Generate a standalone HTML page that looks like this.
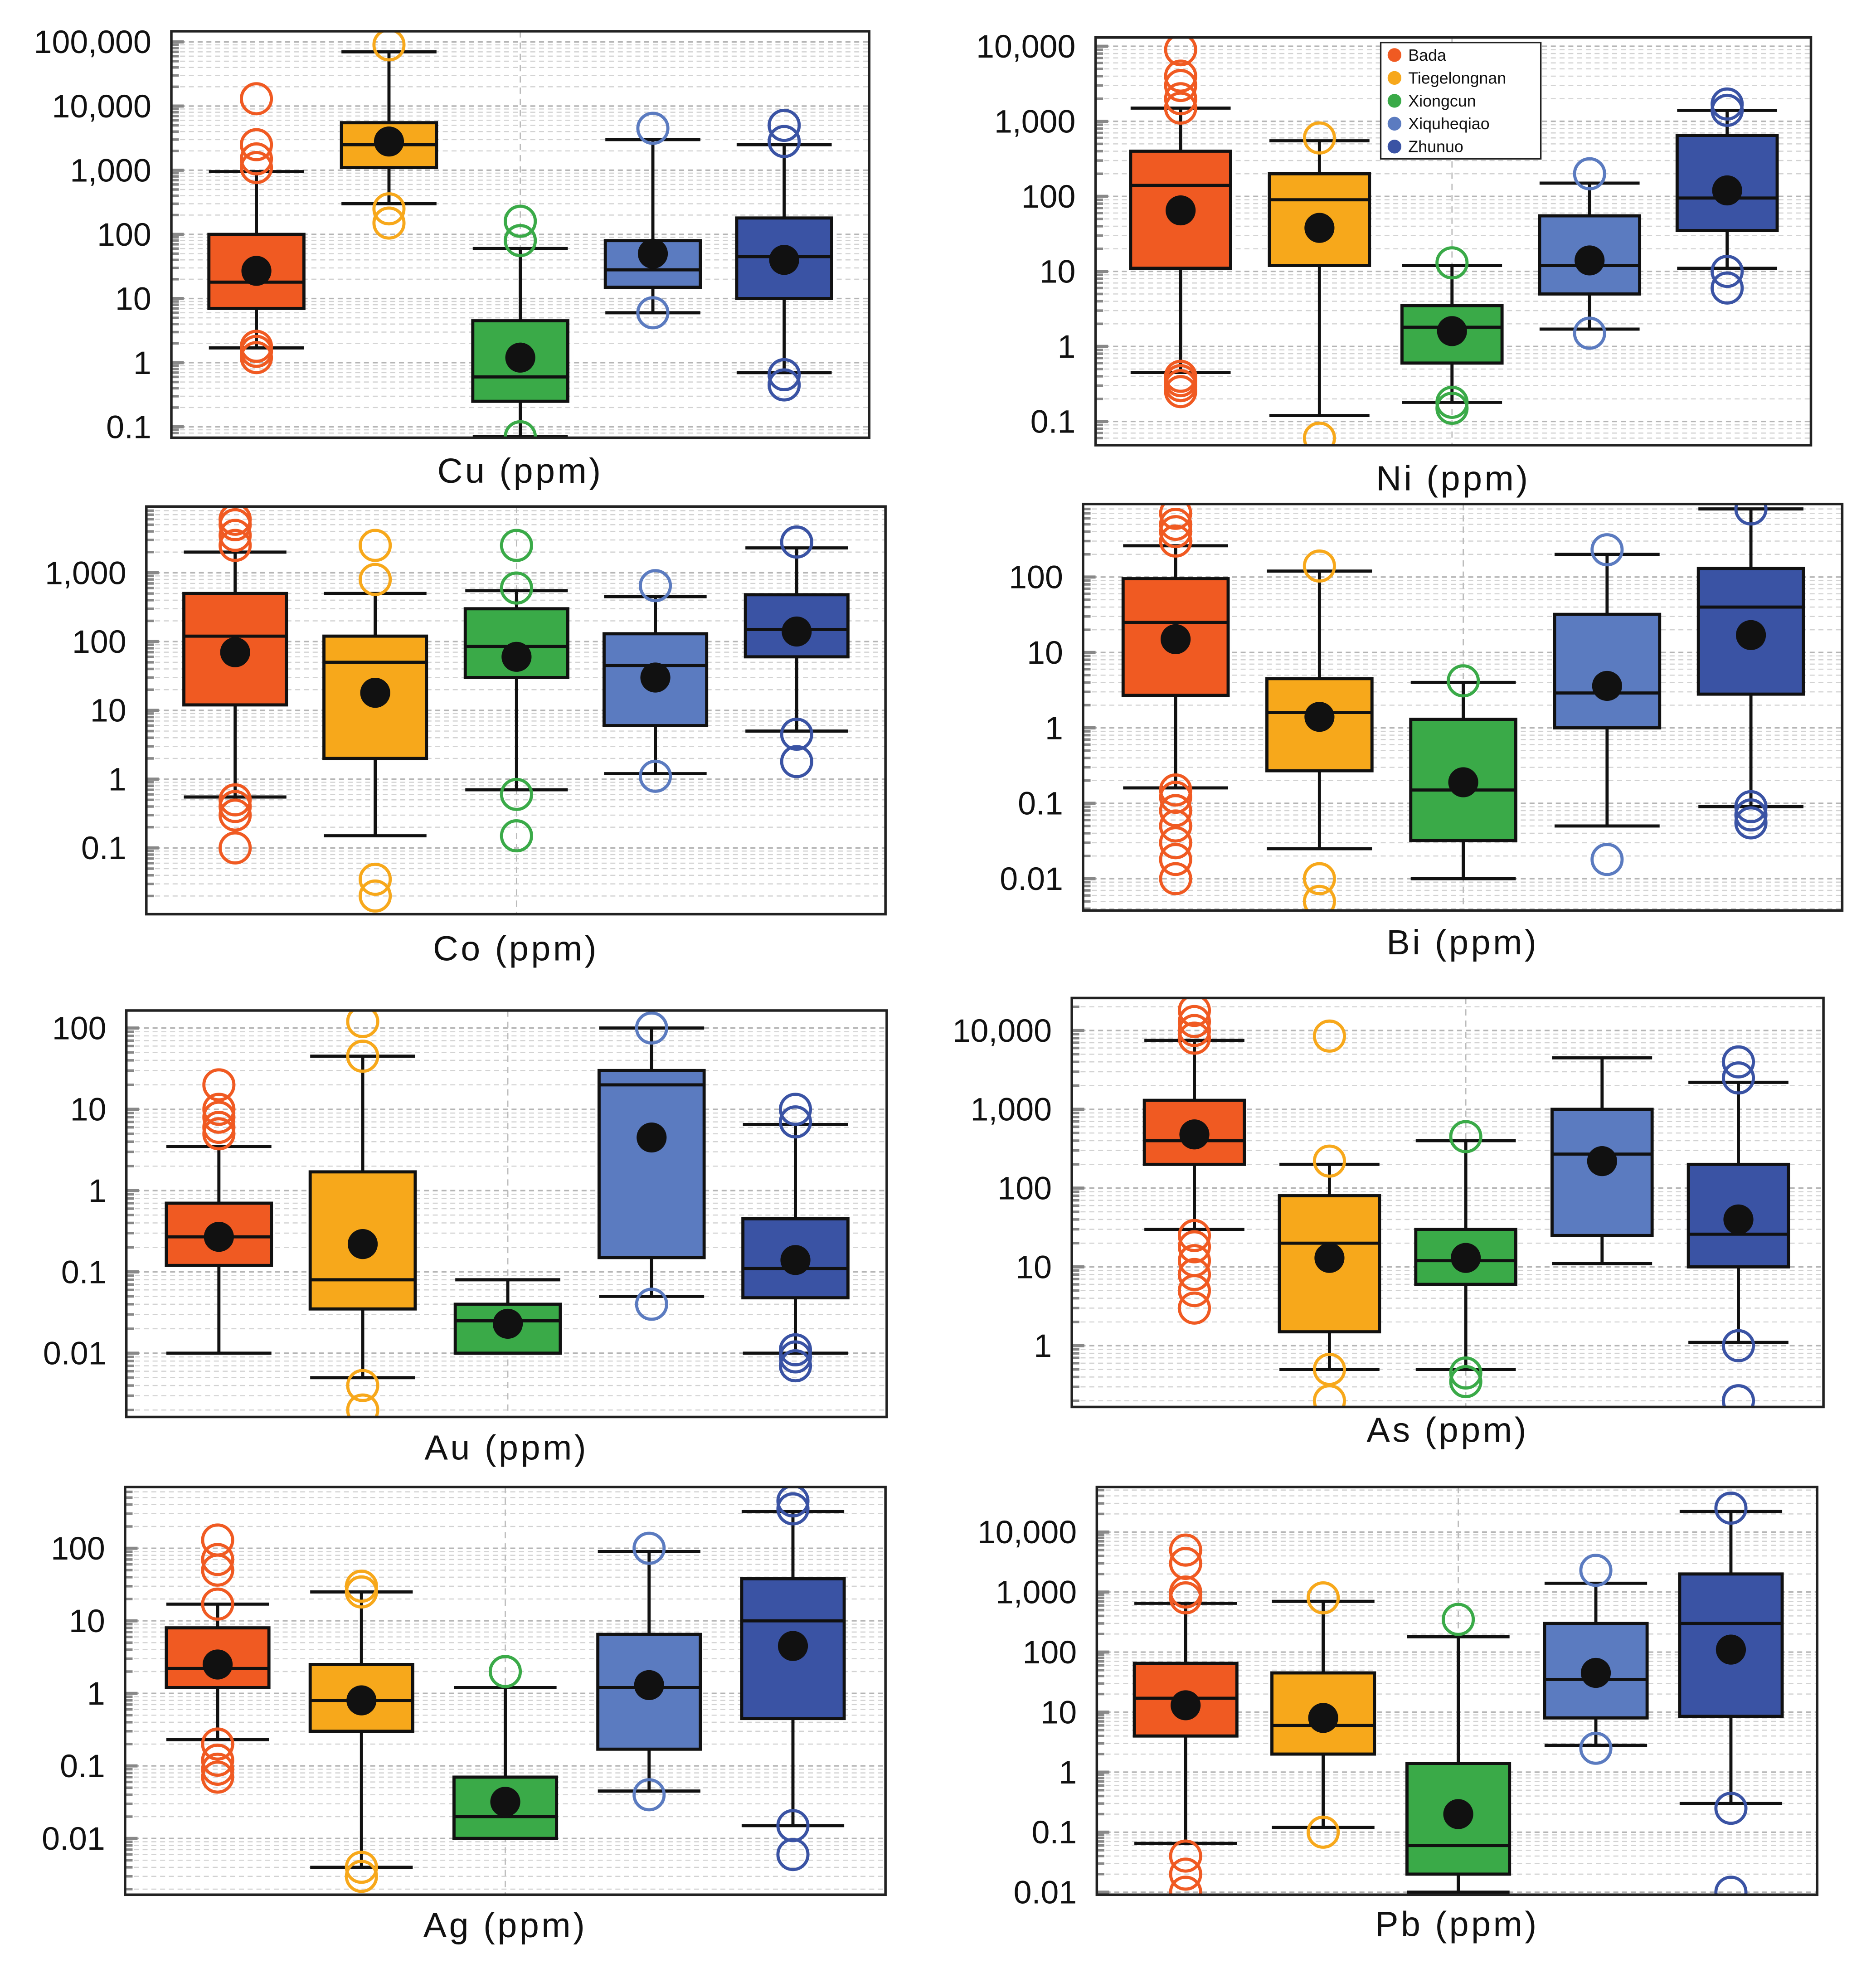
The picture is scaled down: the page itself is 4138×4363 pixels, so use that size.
<!DOCTYPE html>
<html><head><meta charset="utf-8"><style>
html,body{margin:0;padding:0;background:#fff}
svg{display:block}
text{font-family:"Liberation Sans",Arial,sans-serif}
</style></head><body>
<svg id="chart" xmlns="http://www.w3.org/2000/svg" width="4138" height="4363" viewBox="0 0 1500 1581.6"></svg>
<script>
const groups = ["Bada","Tiegelongnan","Xiongcun","Xiqueqiao","Zhunuo"];
const colors = ["#f05a22","#f7a81b","#3aaa48","#5b7bc0","#3a53a4"];
// per element: [whiskerLow, q1, median, q3, whiskerHigh, mean] for each group
const cuStats = [[1.7,7,18,100,950,27],[300,1100,2500,5500,70000,2800],[0.07,0.25,0.6,4.5,60,1.2],[6,15,28,80,3000,50],[0.7,10,45,180,2500,40]];
const cuOut = [[1.2,1.5,1.8,1100,1500,2500,13000],[150,250,90000],[0.07,80,160],[6,4500],[0.45,0.65,2800,5000]];
const niStats = [[0.45,11,140,400,1500,65],[0.12,12,90,200,550,38],[0.18,0.6,1.8,3.5,12,1.6],[1.7,5,12,55,150,14],[11,35,95,650,1400,120]];
const niOut = [[0.25,0.3,0.35,0.4,1500,2000,3000,4000,9000],[0.06,600],[0.15,0.18,13],[1.5,200],[6,10,1400,1700]];
const coStats = [[0.55,12,120,500,2000,70],[0.15,2,50,120,500,18],[0.7,30,85,300,550,60],[1.2,6,45,130,450,30],[5,60,150,480,2300,140]];
const coOut = [[0.1,0.3,0.4,0.5,2500,3500,5000,6000],[0.02,0.035,800,2500],[0.15,0.6,600,2500],[1.1,650],[1.8,4.5,2800]];
const biStats = [[0.16,2.7,25,95,260,15],[0.025,0.27,1.6,4.5,120,1.4],[0.01,0.032,0.15,1.3,4,0.19],[0.05,1,2.9,32,200,3.6],[0.09,2.8,40,130,800,17]];
const biOut = [[0.01,0.018,0.03,0.05,0.08,0.12,0.15,300,400,500,700],[0.005,0.01,140],[4.2],[0.018,230],[0.055,0.07,0.09,800]];
const auStats = [[0.01,0.12,0.27,0.7,3.5,0.27],[0.005,0.035,0.08,1.7,45,0.22],[0.01,0.01,0.025,0.04,0.08,0.023],[0.05,0.15,20,30,100,4.5],[0.01,0.048,0.11,0.45,6.5,0.14]];
const auOut = [[5,6,8,10,20],[0.002,0.004,45,120],[],[0.04,100],[0.007,0.009,0.011,7,10]];
const asStats = [[30,200,400,1300,7500,480],[0.5,1.5,20,80,200,13],[0.5,6,12,30,400,13],[11,25,270,1000,4500,220],[1.1,10,26,200,2200,40]];
const asOut = [[3,5,8,12,18,25,8000,10000,13000,18000],[0.2,0.5,220,8500],[0.35,0.45,450],[],[0.2,1,2500,4000]];
const agStats = [[0.23,1.2,2.2,8,17,2.5],[0.004,0.3,0.8,2.5,25,0.8],[0.01,0.01,0.02,0.07,1.2,0.032],[0.045,0.17,1.2,6.5,90,1.3],[0.015,0.45,10,38,320,4.5]];
const agOut = [[0.07,0.09,0.12,0.2,17,50,70,130],[0.003,0.004,25,30],[2],[0.04,100],[0.006,0.015,350,450]];
const pbStats = [[0.065,4,17,65,650,13],[0.12,2,6,45,700,8],[0.01,0.02,0.06,1.4,180,0.2],[2.8,8,35,300,1400,45],[0.3,8.5,300,2000,22000,110]];
const pbOut = [[0.01,0.02,0.04,800,1000,3000,5000],[0.1,800],[350],[2.5,2300],[0.01,0.25,25000]];
const tickLabels = {"0.01":"0.01","0.1":"0.1","1":"1","10":"10","100":"100","1000":"1,000","10000":"10,000","100000":"100,000"};

// layout (display units)
const panels = [
 {name:"cu",label:"Cu (ppm)",stats:cuStats,out:cuOut,x0:137,x1:695,y0:25,y1:350,y1v:290,dec:51.3,ticks:[0.1,1,10,100,1000,10000,100000],cx:[205,311,416,522,627],w:76,capY:376},
 {name:"ni",label:"Ni (ppm)",stats:niStats,out:niOut,x0:876,x1:1448,y0:30,y1:356,y1v:277,dec:60,ticks:[0.1,1,10,100,1000,10000],cx:[944,1055,1161,1271,1381],w:80,capY:382,legend:true},
 {name:"co",label:"Co (ppm)",stats:coStats,out:coOut,x0:117,x1:708,y0:405,y1:731,y1v:623,dec:55,ticks:[0.1,1,10,100,1000],cx:[188,300,413,524,637],w:82,capY:758},
 {name:"bi",label:"Bi (ppm)",stats:biStats,out:biOut,x0:866,x1:1473,y0:403,y1:728,y1v:582,dec:60.3,ticks:[0.01,0.1,1,10,100],cx:[940,1055,1170,1285,1400],w:84,capY:753},
 {name:"au",label:"Au (ppm)",stats:auStats,out:auOut,x0:101,x1:709,y0:808,y1:1133,y1v:952,dec:65,ticks:[0.01,0.1,1,10,100],cx:[175,290,406,521,636],w:84,capY:1157},
 {name:"as",label:"As (ppm)",stats:asStats,out:asOut,x0:857,x1:1458,y0:798,y1:1125,y1v:1076,dec:63,ticks:[1,10,100,1000,10000],cx:[955,1063,1172,1281,1390],w:80,capY:1143},
 {name:"ag",label:"Ag (ppm)",stats:agStats,out:agOut,x0:100,x1:708,y0:1189,y1:1515,y1v:1354,dec:58,ticks:[0.01,0.1,1,10,100],cx:[174,289,404,519,634],w:82,capY:1539},
 {name:"pb",label:"Pb (ppm)",stats:pbStats,out:pbOut,x0:877,x1:1453,y0:1189,y1:1515,y1v:1417,dec:48,ticks:[0.01,0.1,1,10,100,1000,10000],cx:[948,1058,1166,1276,1384],w:82,capY:1538}
];
const NS="http://www.w3.org/2000/svg";
const svg=document.getElementById('chart');
function mk(tag,attrs,parent){const e=document.createElementNS(NS,tag);for(const k in attrs)e.setAttribute(k,attrs[k]);(parent||svg).appendChild(e);return e;}
const defs=mk('defs',{});
panels.forEach((p,pi)=>{
  const yScale=v=>p.y1v-Math.log10(v)*p.dec;
  const g=mk('g',{});
  
  
  const cp=mk('clipPath',{id:'cp'+pi},defs);
  mk('rect',{x:p.x0,y:p.y0,width:p.x1-p.x0,height:p.y1-p.y0},cp);
  // minor gridlines & ticks
  const lo=Math.floor(Math.log10(Math.pow(10,(p.y1v-p.y1)/p.dec)))-1;
  const hi=Math.ceil((p.y1v-p.y0)/p.dec)+1;
  for(let d=lo;d<=hi;d++){for(let m=1;m<10;m++){const v=m*Math.pow(10,d);const y=yScale(v);if(y<p.y0+1||y>p.y1-1)continue;
    const gl=mk('line',{x1:p.x0,x2:p.x1,y1:y,y2:y,stroke:m===1?'#b5b5b5':'#d2d2d2','stroke-width':m===1?1.2:0.9,'stroke-dasharray':'4,3'},g);
    
    
    mk('line',{x1:p.x0,x2:p.x0+(m===1?10:6),y1:y,y2:y,stroke:'#888','stroke-width':m===1?2.5:2},g);
  }}
  const vc=mk('line',{x1:p.cx[2],x2:p.cx[2],y1:p.y0,y2:p.y1,stroke:'#bbb','stroke-width':1,'stroke-dasharray':'5,4'},g);
  
  
  // tick labels
  p.ticks.forEach(t=>{const tl=mk('text',{x:p.x0-16,y:yScale(t)+9,'text-anchor':'end','font-size':26,fill:'#111'},g);tl.textContent=tickLabels[String(t)];
    
    });
  const marks=mk('g',{'clip-path':'url(#cp'+pi+')'},g);
  p.stats.forEach((s,i)=>{
    const x=p.cx[i],hw=p.w/2,c=colors[i];
    const bg=mk('g',{},marks);
    
    
    mk('line',{x1:x,x2:x,y1:yScale(s[0]),y2:yScale(s[4]),stroke:'#111','stroke-width':2.5},bg);
    mk('line',{x1:x-hw,x2:x+hw,y1:yScale(s[0]),y2:yScale(s[0]),stroke:'#111','stroke-width':2.5},bg);
    mk('line',{x1:x-hw,x2:x+hw,y1:yScale(s[4]),y2:yScale(s[4]),stroke:'#111','stroke-width':2.5},bg);
    mk('rect',{x:x-hw,y:yScale(s[3]),width:p.w,height:yScale(s[1])-yScale(s[3]),fill:c,stroke:'#111','stroke-width':2.5},bg);
    mk('line',{x1:x-hw,x2:x+hw,y1:yScale(s[2]),y2:yScale(s[2]),stroke:'#111','stroke-width':2.5},bg);
    p.out[i].forEach(v=>{const o=mk('circle',{cx:x,cy:yScale(v),r:12,fill:'none',stroke:c,'stroke-width':2.5},bg);
      
      });
    const mn=mk('circle',{cx:x,cy:yScale(s[5]),r:12,fill:'#111'},bg);
    
    
  });
  mk('rect',{x:p.x0,y:p.y0,width:p.x1-p.x0,height:p.y1-p.y0,fill:'none',stroke:'#222','stroke-width':2},g);
  const cap=mk('text',{x:(p.x0+p.x1)/2,y:p.capY+10,'text-anchor':'middle','font-size':28,fill:'#111','letter-spacing':2},g);
  cap.textContent=p.label;
  
  
  if(p.legend){
    const lg=mk('g',{},g);
    
    
    mk('rect',{x:1104,y:34,width:128,height:93,fill:'#fff',stroke:'#222','stroke-width':1.2},lg);
    groups.forEach((n,i)=>{
      const le=mk('g',{},lg);
      
      
      mk('circle',{cx:1115,cy:44+i*18.3,r:5.5,fill:colors[i]},le);
      const t=mk('text',{x:1126,y:48.5+i*18.3,'font-size':13,fill:'#111'},le);t.textContent=n==="Xiqueqiao"?"Xiquheqiao":n;
    });
  }
});
</script>
</body></html>
